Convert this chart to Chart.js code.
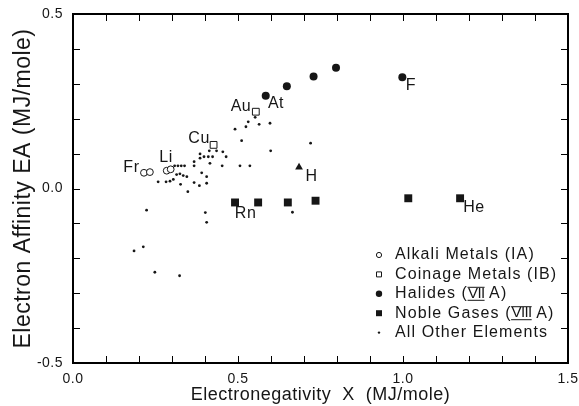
<!DOCTYPE html>
<html>
<head>
<meta charset="utf-8">
<script src="https://cdn.jsdelivr.net/npm/chart.js@4.4.1/dist/chart.umd.min.js"></script>
<style>
  html, body { margin: 0; padding: 0; background: #fff; }
  #wrap { width: 579px; height: 406px; }
</style>
</head>
<body>
<div id="wrap"><canvas id="chart" width="579" height="406"></canvas></div>
<script>
// values: X and EA, both in MJ/mole
const alkaliX = [0.215, 0.233, 0.284, 0.296];
const alkaliY = [0.045, 0.047, 0.051, 0.055];

const coinageX = [0.426, 0.554];
const coinageY = [0.125, 0.220];

const halideX = [0.584, 0.648, 0.729, 0.797, 0.998];
const halideY = [0.266, 0.293, 0.321, 0.346, 0.319];

const nobleX = [0.491, 0.561, 0.651, 0.735, 1.016, 1.173];
const nobleY = [-0.040, -0.040, -0.040, -0.035, -0.028, -0.028];

const hydrogenX = [0.685];
const hydrogenY = [0.061];

const otherX = [0.258, 0.282, 0.294, 0.304, 0.314, 0.324, 0.334, 0.345, 0.326, 0.348,
                0.367, 0.383, 0.405, 0.405, 0.390, 0.367, 0.367, 0.385, 0.385, 0.397,
                0.410, 0.415, 0.413, 0.423, 0.435, 0.454, 0.464, 0.452, 0.506, 0.536,
                0.308, 0.318, 0.328, 0.338, 0.491, 0.511, 0.524, 0.531, 0.552, 0.564,
                0.597, 0.599, 0.720, 0.223, 0.401, 0.405, 0.185, 0.213, 0.248, 0.323,
                0.665];
const otherY = [0.019, 0.019, 0.021, 0.026, 0.040, 0.042, 0.037, 0.034, 0.012, -0.009,
                0.017, 0.008, 0.015, 0.034, 0.045, 0.065, 0.077, 0.087, 0.099, 0.091,
                0.091, 0.072, 0.108, 0.091, 0.108, 0.105, 0.091, 0.065, 0.065, 0.065,
                0.065, 0.065, 0.065, 0.065, 0.170, 0.137, 0.177, 0.191, 0.204, 0.184,
                0.187, 0.108, 0.130, -0.062, -0.069, -0.097, -0.179, -0.167, -0.240, -0.250,
                -0.068];

// element labels placed in data coordinates
const elementNames = ['Fr', 'Li', 'Cu', 'Au', 'At', 'F', 'H', 'Rn', 'He'];
const elementX = [0.177, 0.282, 0.382, 0.509, 0.615, 1.024, 0.723, 0.523, 1.215];
const elementY = [0.059, 0.089, 0.143, 0.236, 0.244, 0.295, 0.034, -0.073, -0.056];

const xMin = 0, xMax = 1.5, yMin = -0.5, yMax = 0.5, tickStep = 0.1;

const INK = '#161616';
const FONT = "'Liberation Sans', Arial, Helvetica, sans-serif";

function pts(xs, ys) {
    return xs.map((x, i) => ({ x: x, y: ys[i] }));
}

function majorLabel(v) {
    const h = v * 2;
    return Math.abs(h - Math.round(h)) < 1e-6 ? v.toFixed(1) : '';
}

// frame + inward ticks (as filled bars), element labels, legend
const decorPlugin = {
    id: 'decor',
    beforeDraw(chart) {
        chart.ctx.letterSpacing = '0.5px';
    },
    afterDraw(chart) {
        const c = chart.ctx;
        const xs = chart.scales.x, ys = chart.scales.y;
        const L = Math.round(xs.getPixelForValue(xMin)), R = Math.round(xs.getPixelForValue(xMax));
        const T = Math.round(ys.getPixelForValue(yMax)), B = Math.round(ys.getPixelForValue(yMin));
        const tl = 7, fw = 2;

        c.save();
        c.fillStyle = '#000000';
        c.fillRect(L - 1, T - 1, R - L + fw, fw);
        c.fillRect(L - 1, B - 1, R - L + fw, fw);
        c.fillRect(L - 1, T - 1, fw, B - T + fw);
        c.fillRect(R - 1, T - 1, fw, B - T + fw);
        xs.ticks.forEach(t => {
            const px = Math.round(xs.getPixelForValue(t.value));
            c.fillRect(px, B - tl, 1, tl);
            c.fillRect(px, T, 1, tl);
        });
        ys.ticks.forEach(t => {
            const py = Math.round(ys.getPixelForValue(t.value));
            c.fillRect(L, py, tl, 1);
            c.fillRect(R - tl, py, tl, 1);
        });

        c.fillStyle = INK;
        c.font = '16px ' + FONT;
        c.letterSpacing = '0.5px';
        c.textAlign = 'center';
        c.textBaseline = 'middle';
        elementNames.forEach((n, i) => {
            c.fillText(n, xs.getPixelForValue(elementX[i]), ys.getPixelForValue(elementY[i]));
        });

        const items = [
            { mark: 'openCircle', parts: ['Alkali Metals (IA)'] },
            { mark: 'openSquare', parts: ['Coinage Metals (IB)'] },
            { mark: 'dot', parts: ['Halides (', { roman: 'VII' }, ' A)'] },
            { mark: 'square', parts: ['Noble Gases (', { roman: 'VIII' }, ' A)'] },
            { mark: 'smallDot', parts: ['All Other Elements'] }
        ];
        const mx = 379, tx = 395, y0 = 255, dy = 19.4;
        c.textAlign = 'left';
        items.forEach((it, i) => {
            const y = y0 + i * dy;
            c.fillStyle = INK;
            c.strokeStyle = INK;
            c.lineWidth = 1;
            c.beginPath();
            if (it.mark === 'openCircle') {
                c.arc(mx, y, 2.6, 0, Math.PI * 2);
                c.stroke();
            } else if (it.mark === 'openSquare') {
                c.rect(mx - 2.5, y - 2.5, 5, 5);
                c.stroke();
            } else if (it.mark === 'dot') {
                c.arc(mx, y, 3.2, 0, Math.PI * 2);
                c.fill();
            } else if (it.mark === 'square') {
                c.rect(mx - 3, y - 3, 6, 6);
                c.fill();
            } else {
                c.arc(mx, y, 1.2, 0, Math.PI * 2);
                c.fill();
            }
            let cx = tx;
            it.parts.forEach(p => {
                if (typeof p === 'string') {
                    c.font = '16px ' + FONT;
                    c.letterSpacing = '1.1px';
                    c.fillText(p, cx, y);
                    cx += c.measureText(p).width;
                } else {
                    c.font = '15px ' + FONT;
                    c.letterSpacing = '-0.6px';
                    const w = c.measureText(p.roman).width;
                    c.fillText(p.roman, cx, y);
                    c.fillRect(cx - 0.5, y - 7, w + 0.5, 1);
                    c.fillRect(cx - 0.5, y + 6, w + 0.5, 1);
                    cx += w - 1;
                }
            });
        });
        c.restore();
    }
};

function noPad(s) {
    s.paddingLeft = 0; s.paddingRight = 0; s.paddingTop = 0; s.paddingBottom = 0;
}

new Chart(document.getElementById('chart'), {
    type: 'scatter',
    data: {
        datasets: [
            {
                label: 'Alkali Metals (IA)',
                data: pts(alkaliX, alkaliY),
                pointStyle: 'circle',
                pointRadius: 3.4,
                backgroundColor: '#ffffff',
                borderColor: INK,
                borderWidth: 1
            },
            {
                label: 'Coinage Metals (IB)',
                data: pts(coinageX, coinageY),
                pointStyle: 'rect',
                pointRadius: 4.8,
                backgroundColor: '#ffffff',
                borderColor: INK,
                borderWidth: 1
            },
            {
                label: 'Halides (VII A)',
                data: pts(halideX, halideY),
                pointStyle: 'circle',
                pointRadius: 4,
                backgroundColor: INK,
                borderColor: INK,
                borderWidth: 0
            },
            {
                label: 'Noble Gases (VIII A)',
                data: pts(nobleX, nobleY),
                pointStyle: 'rect',
                pointRadius: 5.6,
                backgroundColor: INK,
                borderColor: INK,
                borderWidth: 0
            },
            {
                label: 'H',
                data: pts(hydrogenX, hydrogenY),
                pointStyle: 'triangle',
                pointRadius: 4.5,
                backgroundColor: INK,
                borderColor: INK,
                borderWidth: 0
            },
            {
                label: 'All Other Elements',
                data: pts(otherX, otherY),
                pointStyle: 'circle',
                pointRadius: 1.4,
                backgroundColor: INK,
                borderColor: INK,
                borderWidth: 0
            }
        ]
    },
    options: {
        responsive: false,
        animation: false,
        devicePixelRatio: 1,
        layout: { padding: { top: 14, right: 11, left: 0, bottom: 0 } },
        plugins: {
            legend: { display: false },
            tooltip: { enabled: false }
        },
        scales: {
            x: {
                type: 'linear',
                min: xMin,
                max: xMax,
                afterFit: s => { s.height = 43; noPad(s); },
                grid: { display: false, drawTicks: false },
                border: { display: false },
                ticks: {
                    stepSize: tickStep,
                    autoSkip: false,
                    maxRotation: 0,
                    padding: 8,
                    color: INK,
                    font: { family: FONT, size: 14 },
                    callback: v => majorLabel(v)
                },
                title: {
                    display: true,
                    text: 'Electronegativity  X  (MJ/mole)',
                    color: INK,
                    font: { family: FONT, size: 18 },
                    padding: { top: 0, bottom: 0 }
                }
            },
            y: {
                type: 'linear',
                min: yMin,
                max: yMax,
                afterFit: s => { s.width = 73; noPad(s); },
                grid: { display: false, drawTicks: false },
                border: { display: false },
                ticks: {
                    stepSize: tickStep,
                    autoSkip: false,
                    padding: 10,
                    color: INK,
                    font: { family: FONT, size: 14 },
                    callback: v => majorLabel(v)
                },
                title: {
                    display: true,
                    text: 'Electron Affinity EA (MJ/mole)',
                    color: INK,
                    font: { family: FONT, size: 23 },
                    padding: { top: 10, bottom: 0 }
                }
            }
        }
    },
    plugins: [decorPlugin]
});
</script>
</body>
</html>
